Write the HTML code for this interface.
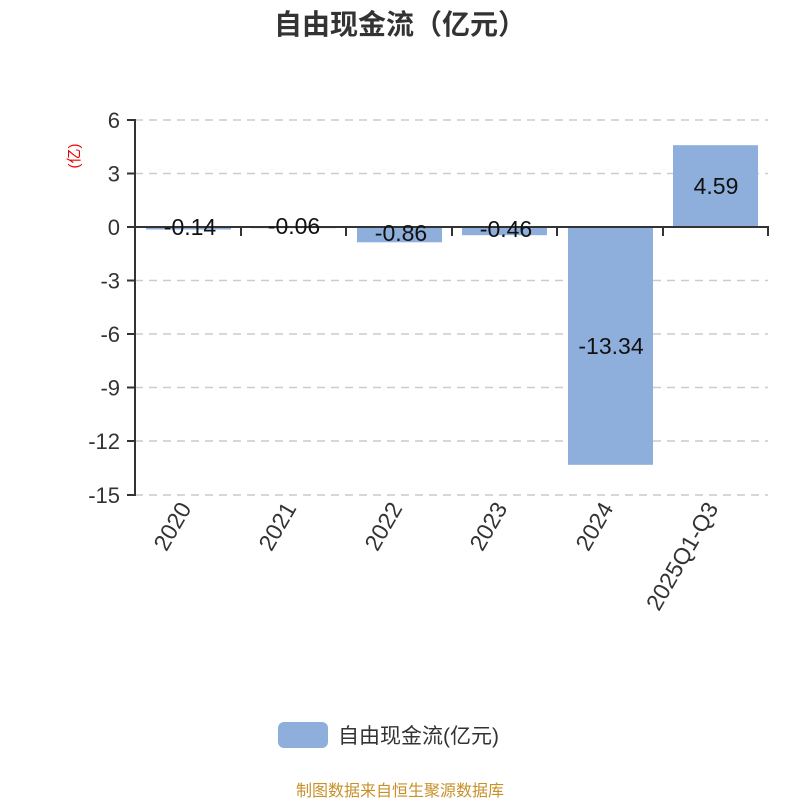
<!DOCTYPE html>
<html><head><meta charset="utf-8"><style>body{margin:0;background:#fff}svg{display:block}text{font-family:"Liberation Sans","Noto Sans CJK SC",sans-serif}</style></head><body>
<svg width="800" height="800" viewBox="0 0 800 800">
<text x="400" y="34" text-anchor="middle" font-size="28" font-weight="bold" fill="#333">自由现金流（亿元）</text>
<g stroke="#ccc" stroke-width="1.5" stroke-dasharray="8,6">
<line x1="135" y1="120" x2="768" y2="120"/><line x1="135" y1="173.5" x2="768" y2="173.5"/>
<line x1="135" y1="280.5" x2="768" y2="280.5"/><line x1="135" y1="334" x2="768" y2="334"/>
<line x1="135" y1="387.5" x2="768" y2="387.5"/><line x1="135" y1="441" x2="768" y2="441"/>
<line x1="135" y1="495" x2="768" y2="495"/></g>
<g fill="#8eaedb">
<rect x="146" y="227" width="85" height="2.5"/><rect x="251" y="227" width="85" height="1.2"/>
<rect x="357" y="227" width="85" height="15.3"/><rect x="462" y="227" width="85" height="8.2"/>
<rect x="568" y="227" width="85" height="237.8"/><rect x="673" y="145.2" width="85" height="81.8"/></g>
<g stroke="#333" stroke-width="2"><line x1="135" y1="119" x2="135" y2="496"/><line x1="135" y1="227" x2="769" y2="227"/>
<line x1="127" y1="120" x2="135" y2="120"/><line x1="127" y1="173.5" x2="135" y2="173.5"/><line x1="127" y1="227" x2="135" y2="227"/>
<line x1="127" y1="280.5" x2="135" y2="280.5"/><line x1="127" y1="334" x2="135" y2="334"/><line x1="127" y1="387.5" x2="135" y2="387.5"/>
<line x1="127" y1="441" x2="135" y2="441"/><line x1="127" y1="495" x2="135" y2="495"/>
<line x1="241" y1="227" x2="241" y2="236"/><line x1="346" y1="227" x2="346" y2="236"/><line x1="452" y1="227" x2="452" y2="236"/>
<line x1="557" y1="227" x2="557" y2="236"/><line x1="663" y1="227" x2="663" y2="236"/><line x1="768" y1="227" x2="768" y2="236"/></g>
<g font-size="22" fill="#333" text-anchor="end">
<text x="120" y="128">6</text><text x="120" y="181.5">3</text><text x="120" y="235">0</text><text x="120" y="288.5">-3</text>
<text x="120" y="342">-6</text><text x="120" y="395.5">-9</text><text x="120" y="449">-12</text><text x="120" y="503">-15</text></g>
<text transform="translate(79,156) rotate(-90)" text-anchor="middle" font-size="15" fill="#e00">(亿)</text>
<g font-size="23" fill="#111" text-anchor="middle">
<text x="190" y="235">-0.14</text><text x="294" y="234">-0.06</text><text x="401" y="241">-0.86</text>
<text x="506" y="237">-0.46</text><text x="611" y="354">-13.34</text><text x="716" y="194">4.59</text></g>
<g font-size="23" fill="#333" text-anchor="end">
<text transform="translate(192,508) rotate(-60)">2020</text><text transform="translate(297,508) rotate(-60)">2021</text>
<text transform="translate(403,508) rotate(-60)">2022</text><text transform="translate(508,508) rotate(-60)">2023</text>
<text transform="translate(614,508) rotate(-60)">2024</text><text transform="translate(719,508) rotate(-60)">2025Q1-Q3</text></g>
<rect x="278" y="722" width="50" height="26" rx="6" fill="#8eaedb"/>
<text x="338" y="743" font-size="21" fill="#333">自由现金流(亿元)</text>
<text x="400" y="796" text-anchor="middle" font-size="16" fill="#c8902a">制图数据来自恒生聚源数据库</text>
</svg></body></html>
